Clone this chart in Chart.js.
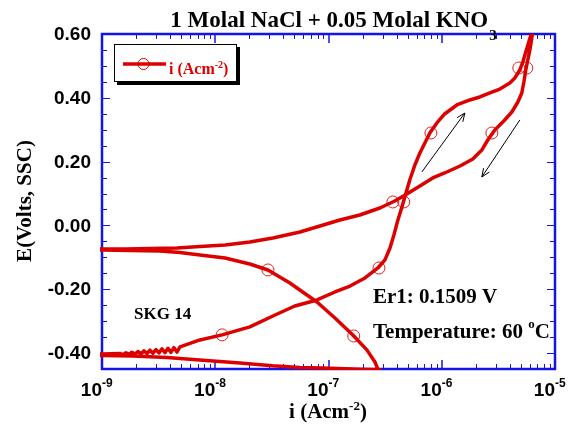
<!DOCTYPE html>
<html>
<head>
<meta charset="utf-8">
<script src="https://cdn.jsdelivr.net/npm/chart.js@4.4.1/dist/chart.umd.min.js"></script>
<style>
  html, body { margin: 0; padding: 0; background: #fff; }
</style>
</head>
<body>
<canvas id="polChart" width="569" height="427"></canvas>
<script>
// cyclic polarization scan, in scan order
// current density (A/cm2)
const current = [
  2.85e-7, 1.89e-7, 8.9e-8, 5.6e-8, 3.2e-8, 1.65e-8, 7.3e-9, 3.75e-9, 1.88e-9, 1.0e-9, 5e-10,
  5e-10, 1.0e-9,
  1.442e-9, 1.532e-9, 1.629e-9, 1.731e-9, 1.84e-9, 1.955e-9, 2.078e-9, 2.209e-9, 2.348e-9, 2.495e-9,
  2.652e-9, 2.818e-9, 2.995e-9, 3.184e-9, 3.384e-9, 3.597e-9, 3.823e-9, 4.064e-9, 4.319e-9, 4.592e-9, 4.88e-9,
  7.33e-9, 1.15e-8, 2.02e-8, 3.23e-8, 5.04e-8, 7.91e-8, 1.14e-7, 1.55e-7, 2.1e-7, 2.73e-7,
  3.15e-7, 3.49e-7, 3.78e-7, 4.1e-7, 4.45e-7, 4.72e-7, 5.22e-7, 5.79e-7, 6.41e-7, 7.24e-7, 7.85e-7,
  9.06e-7, 1.06e-6, 1.36e-6, 1.77e-6, 2.17e-6, 2.66e-6, 3.26e-6, 3.99e-6, 4.42e-6, 4.89e-6,
  5.2e-6, 5.52e-6, 5.87e-6, 6.24e-6, 6.5e-6,
  6.24e-6, 6.0e-6, 5.75e-6, 5.52e-6, 5.31e-6, 5.09e-6, 4.7e-6, 4.16e-6, 3.53e-6, 2.94e-6,
  2.55e-6, 2.26e-6, 1.88e-6, 1.45e-6, 1.06e-6, 8.33e-7, 6.41e-7, 4.92e-7, 3.85e-7, 2.84e-7,
  1.89e-7, 1.26e-7, 8.4e-8, 5.6e-8, 3.23e-8, 2.02e-8, 1.22e-8, 7.33e-9, 4.6e-9, 2.65e-9,
  1.6e-9, 1.0e-9, 5e-10,
  5e-10, 1.0e-9, 1.77e-9, 3.25e-9, 4.88e-9, 7.33e-9, 1.22e-8, 2.02e-8, 2.92e-8, 4.56e-8,
  7.91e-8, 1.14e-7, 1.64e-7, 2.18e-7, 2.57e-7, 2.79e-7
];
// potential (V vs SSC)
const potential = [
  -0.452, -0.451, -0.447, -0.445, -0.440, -0.431, -0.422, -0.414, -0.409, -0.4075, -0.406,
  -0.404, -0.403,
  -0.4013, -0.4047, -0.3993, -0.4038, -0.3972, -0.4030, -0.3952, -0.4021, -0.3932, -0.4013,
  -0.3911, -0.4004, -0.3891, -0.3994, -0.3871, -0.3988, -0.3850, -0.3979, -0.3830, -0.3969, -0.3809,
  -0.359, -0.343, -0.318, -0.284, -0.2525, -0.2336, -0.2086, -0.190, -0.1647, -0.1334,
  -0.108, -0.0707, -0.030, 0.0171, 0.0578, 0.0892, 0.1424, 0.1894, 0.2271, 0.2647, 0.2897,
  0.3211, 0.3493, 0.3775, 0.3932, 0.4026, 0.4151, 0.4276, 0.4464, 0.4621, 0.4872,
  0.5122, 0.5436, 0.575, 0.606, 0.628,
  0.5875, 0.550, 0.5185, 0.4872, 0.4496, 0.4151, 0.3869, 0.3556, 0.3273, 0.2991,
  0.2678, 0.2365, 0.2083, 0.1863, 0.1644, 0.1487, 0.1236, 0.0986, 0.0766, 0.0547,
  0.0327, 0.0171, -0.0017, -0.0205, -0.0393, -0.0519, -0.0613, -0.066, -0.0707, -0.0722,
  -0.0738, -0.0738, -0.0745,
  -0.076, -0.077, -0.0785, -0.080, -0.0848, -0.0926, -0.102, -0.121, -0.1396, -0.1804,
  -0.240, -0.290, -0.3433, -0.390, -0.428, -0.459
];
// circled points on the trace
const markCurrent = [1.15e-8, 2.92e-8, 1.67e-7, 2.79e-7, 3.7e-7, 4.62e-7, 8.02e-7, 2.77e-6, 4.79e-6, 5.64e-6];
const markPotential = [-0.343, -0.1396, -0.3465, -0.1334, 0.0735, 0.0735, 0.2897, 0.2897, 0.4934, 0.4934];

const xTickVals = [1e-9, 1e-8, 1e-7, 1e-6, 1e-5];
const xTickExp = ["-9", "-8", "-7", "-6", "-5"];
const yTickVals = [0.6, 0.4, 0.2, 0, -0.2, -0.4];
const yTickText = ["0.60", "0.40", "0.20", "0.00", "-0.20", "-0.40"];

// scan direction arrows [fromI, fromE, toI, toE]
const arrows = [
  [6.67e-7, 0.1675, 1.6e-6, 0.3524],
  [4.89e-6, 0.3305, 2.26e-6, 0.1518]
];

const RED = "#dd0000";
const BLUE = "#1414e6";
const SERIF = '"Liberation Serif", "Times New Roman", serif';
const SANS = '"Liberation Sans", Arial, sans-serif';

const framePlugin = {
  id: "frame",
  beforeDatasetsDraw(chart) {
    const { ctx, chartArea: a, scales: { x, y } } = chart;
    ctx.save();
    ctx.strokeStyle = BLUE;
    ctx.lineWidth = 1;
    function tick(px, py, dx, dy) {
      ctx.beginPath();
      ctx.moveTo(px, py);
      ctx.lineTo(px + dx, py + dy);
      ctx.stroke();
    }
    // x ticks, bottom and top
    for (let e = -9; e < -5; e++) {
      for (let m = 2; m <= 9; m++) {
        const px = Math.round(x.getPixelForValue(m * Math.pow(10, e))) + 0.5;
        tick(px, a.bottom, 0, -5);
        tick(px, a.top, 0, 5);
      }
    }
    ctx.lineWidth = 1.5;
    xTickVals.forEach(v => {
      const px = Math.round(x.getPixelForValue(v));
      tick(px, a.bottom, 0, -9);
      tick(px, a.top, 0, 9);
    });
    // y ticks, left and right
    ctx.lineWidth = 1;
    for (let k = 0; k <= 21; k++) {
      const v = -0.45 + k * 0.05;
      const py = Math.round(y.getPixelForValue(v)) + 0.5;
      const major = Math.abs(Math.round(v * 10) % 2) === 0 && Math.abs(v * 10 - Math.round(v * 10)) < 1e-6;
      const len = major ? 8 : 5;
      tick(a.left, py, len, 0);
      tick(a.right, py, -len, 0);
    }
    ctx.lineWidth = 2.5;
    ctx.strokeRect(a.left, a.top, a.right - a.left, a.bottom - a.top);
    ctx.restore();
  },
  afterDraw(chart) {
    const { ctx, chartArea: a, scales: { x, y } } = chart;
    ctx.save();
    ctx.fillStyle = "#000";

    // y tick labels
    ctx.font = "bold 19px " + SANS;
    ctx.textAlign = "right";
    ctx.textBaseline = "middle";
    yTickVals.forEach((v, i) => {
      ctx.fillText(yTickText[i], a.left - 11, y.getPixelForValue(v) + 1);
    });

    // x tick labels 10^n
    ctx.textBaseline = "alphabetic";
    xTickVals.forEach((v, i) => {
      const px = x.getPixelForValue(v);
      ctx.font = "bold 19px " + SANS;
      ctx.textAlign = "right";
      ctx.fillText("10", px, a.bottom + 27);
      ctx.font = "bold 12px " + SANS;
      ctx.textAlign = "left";
      ctx.fillText(xTickExp[i], px, a.bottom + 18);
    });

    // title with subscript
    ctx.textAlign = "left";
    ctx.font = "bold 23px " + SERIF;
    const t1 = "1 Molal NaCl + 0.05 Molal KNO";
    const w1 = ctx.measureText(t1).width;
    ctx.font = "bold 15px " + SERIF;
    const w2 = ctx.measureText("3").width;
    const tx = 333 - (w1 + w2) / 2;
    ctx.font = "bold 23px " + SERIF;
    ctx.fillText(t1, tx, 27);
    ctx.font = "bold 15px " + SERIF;
    ctx.fillText("3", tx + w1 + 1, 40);

    // x title with superscript
    function supText(parts, cx, base, color) {
      let total = 0;
      parts.forEach(p => { ctx.font = p[1]; total += ctx.measureText(p[0]).width; });
      let cur = cx - total / 2;
      ctx.fillStyle = color;
      parts.forEach(p => {
        ctx.font = p[1];
        ctx.fillText(p[0], cur, base + p[2]);
        cur += ctx.measureText(p[0]).width;
      });
    }
    supText([["i (Acm", "bold 21px " + SERIF, 0], ["-2", "bold 13px " + SERIF, -8], [")", "bold 21px " + SERIF, 0]], 328, 418, "#000");

    // y title
    ctx.save();
    ctx.translate(26, 201);
    ctx.rotate(-Math.PI / 2);
    ctx.textAlign = "center";
    ctx.textBaseline = "middle";
    ctx.font = "bold 21px " + SERIF;
    ctx.fillStyle = "#000";
    ctx.fillText("E(Volts, SSC)", 0, 0);
    ctx.restore();

    // legend box
    ctx.fillStyle = "#000";
    ctx.fillRect(117, 47, 123, 38);
    ctx.fillStyle = "#fff";
    ctx.fillRect(114, 44, 123, 38);
    ctx.strokeStyle = "#000";
    ctx.lineWidth = 1;
    ctx.strokeRect(114.5, 44.5, 122, 37);
    ctx.strokeStyle = RED;
    ctx.lineWidth = 3.5;
    ctx.beginPath();
    ctx.moveTo(123, 64);
    ctx.lineTo(166, 64);
    ctx.stroke();
    ctx.lineWidth = 1;
    ctx.beginPath();
    ctx.arc(143.5, 64, 5.5, 0, Math.PI * 2);
    ctx.stroke();
    ctx.textAlign = "left";
    let lx = 169;
    ctx.fillStyle = RED;
    ctx.font = "bold 16px " + SERIF;
    ctx.fillText("i (Acm", lx, 74);
    lx += ctx.measureText("i (Acm").width;
    ctx.font = "bold 10px " + SERIF;
    ctx.fillText("-2", lx, 68);
    lx += ctx.measureText("-2").width;
    ctx.font = "bold 16px " + SERIF;
    ctx.fillText(")", lx, 74);

    // annotations
    ctx.fillStyle = "#000";
    ctx.font = "bold 17px " + SERIF;
    ctx.fillText("SKG 14", 134, 319);
    ctx.font = "bold 21px " + SERIF;
    ctx.fillText("Er1: 0.1509 V", 373, 303);
    let ax = 373;
    ctx.fillText("Temperature: 60 ", ax, 338);
    ax += ctx.measureText("Temperature: 60 ").width;
    ctx.font = "bold 13px " + SERIF;
    ctx.fillText("o", ax, 328);
    ax += ctx.measureText("o").width;
    ctx.font = "bold 21px " + SERIF;
    ctx.fillText("C", ax, 338);

    // arrows
    ctx.strokeStyle = "#000";
    ctx.lineWidth = 1;
    arrows.forEach(ar => {
      const x0 = x.getPixelForValue(ar[0]), y0 = y.getPixelForValue(ar[1]);
      const x1 = x.getPixelForValue(ar[2]), y1 = y.getPixelForValue(ar[3]);
      const ang = Math.atan2(y1 - y0, x1 - x0);
      ctx.beginPath();
      ctx.moveTo(x0, y0);
      ctx.lineTo(x1, y1);
      ctx.moveTo(x1 - 9 * Math.cos(ang - 0.4), y1 - 9 * Math.sin(ang - 0.4));
      ctx.lineTo(x1, y1);
      ctx.lineTo(x1 - 9 * Math.cos(ang + 0.4), y1 - 9 * Math.sin(ang + 0.4));
      ctx.stroke();
    });
    ctx.restore();
  }
};

const scanPoints = current.map((c, i) => ({ x: c, y: potential[i] }));
const markPoints = markCurrent.map((c, i) => ({ x: c, y: markPotential[i] }));

const ctx = document.getElementById("polChart").getContext("2d");
const polChart = new Chart(ctx, {
  type: "scatter",
  data: {
    datasets: [
      {
        data: scanPoints,
        showLine: true,
        borderColor: RED,
        borderWidth: 3.5,
        borderJoinStyle: "round",
        borderCapStyle: "round",
        pointRadius: 0,
        tension: 0,
        clip: { left: 2, top: 0, right: 0, bottom: 1 }
      },
      {
        data: markPoints,
        showLine: false,
        pointStyle: "circle",
        pointRadius: 6,
        borderColor: "#e22020",
        borderWidth: 1,
        backgroundColor: "rgba(0,0,0,0)"
      }
    ]
  },
  options: {
    responsive: false,
    animation: false,
    layout: { padding: { left: 102, right: 14, top: 34, bottom: 58 } },
    plugins: { legend: { display: false }, tooltip: { enabled: false } },
    scales: {
      x: { type: "logarithmic", min: 1e-9, max: 1e-5, display: false },
      y: { type: "linear", min: -0.45, max: 0.6, display: false }
    }
  },
  plugins: [framePlugin]
});
</script>
</body>
</html>
